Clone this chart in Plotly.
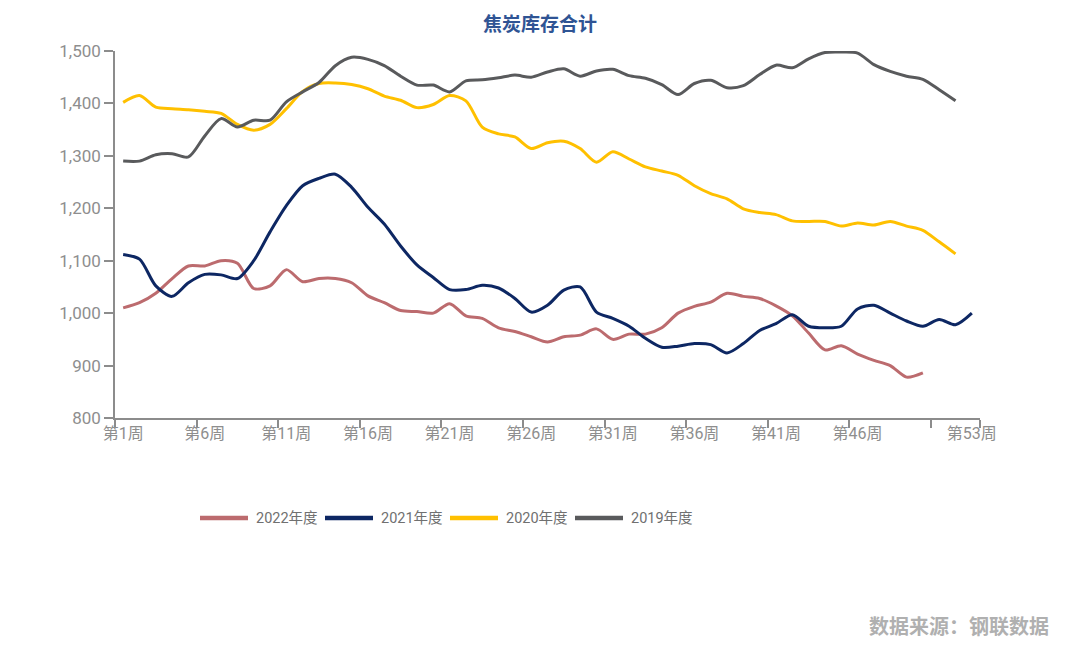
import plotly.graph_objects as go

weeks = list(range(1, 54))
tick_weeks = [1, 6, 11, 16, 21, 26, 31, 36, 41, 46, 53]
tick_labels = ["第%d周" % w for w in tick_weeks]

s2022 = [1010, 1020, 1038, 1066, 1090, 1090, 1100, 1095, 1047, 1052,
         1083, 1060, 1066, 1066, 1058, 1033, 1020, 1005, 1003, 1000,
         1018, 995, 990, 972, 965, 955, 945, 955, 958, 970,
         950, 960, 960, 972, 1000, 1013, 1021, 1038, 1032, 1028,
         1014, 995, 962, 930, 938, 922, 910, 900, 878, 886]
s2021 = [1112, 1103, 1052, 1032, 1058, 1074, 1073, 1066, 1100, 1155,
         1205, 1243, 1257, 1265, 1240, 1202, 1170, 1128, 1092, 1068,
         1045, 1045, 1053, 1048, 1028, 1002, 1015, 1044, 1050, 1002,
         990, 975, 952, 935, 937, 942, 940, 924, 942, 967,
         980, 997, 975, 972, 975, 1008, 1015, 1000, 985, 975,
         988, 978, 1000]
s2020 = [1402, 1415, 1393, 1390, 1388, 1385, 1381, 1360, 1349, 1360,
         1390, 1423, 1438, 1439, 1436, 1428, 1414, 1406, 1392, 1398,
         1415, 1405, 1355, 1342, 1336, 1314, 1325, 1328, 1314, 1288,
         1308, 1294, 1279, 1271, 1263, 1243, 1228, 1218, 1199, 1192,
         1188, 1176, 1175, 1175, 1166, 1172, 1168, 1175, 1166, 1158,
         1136, 1113]
s2019 = [1290, 1290, 1302, 1304, 1298, 1338, 1371, 1355, 1368, 1368,
         1403, 1422, 1440, 1472, 1488, 1484, 1472, 1452, 1435, 1435,
         1422, 1443, 1445, 1449, 1454, 1450, 1460, 1466, 1452, 1462,
         1465, 1453, 1448, 1436, 1417, 1438, 1444, 1430, 1434, 1455,
         1473, 1468, 1485, 1497, 1498, 1496, 1474, 1461, 1452, 1446,
         1426, 1405]

series = [
    ("2022年度", s2022, "#BC6B6E"),
    ("2021年度", s2021, "#0D2763"),
    ("2020年度", s2020, "#FFC000"),
    ("2019年度", s2019, "#595A5C"),
]

# page offset introduced by the default body margin
OFF = 8
W, H = 1080 - OFF, 651 - OFF
# plot area in page pixels: x 115..980, y 51..418
ML, MR, MT, MB = 115 - OFF, 100, 51 - OFF, 233
PW = W - ML - MR
PH = H - MT - MB


def px_x(px):
    return (px - OFF - ML) / PW


def px_y(py):
    return (H - MB - (py - OFF)) / PH


fig = go.Figure()
for name, vals, color in series:
    fig.add_trace(go.Scatter(
        x=weeks[:len(vals)], y=vals, mode="lines", name=name,
        line=dict(color=color, width=3, shape="spline", smoothing=0.8),
        showlegend=False, hoverinfo="x+y",
    ))

font_main = "Roboto, Noto Sans CJK SC, sans-serif"
axis_col = "#8C8C8C"
label_col = "#8E8E8E"

fig.update_layout(
    width=W, height=H,
    margin=dict(l=ML, r=MR, t=MT, b=MB),
    paper_bgcolor="white", plot_bgcolor="white",
    font=dict(family=font_main, color=label_col, size=15),
    xaxis=dict(
        range=[0.5, 53.5], showgrid=False, zeroline=False,
        showline=True, linecolor=axis_col, linewidth=1.5,
        tickmode="array", tickvals=tick_weeks, ticktext=tick_labels,
        ticks="", tickfont=dict(family=font_main, size=16, color=label_col),
        minor=dict(tickmode="array",
                   tickvals=[0.5 + 5 * i for i in range(11)] + [53.5],
                   ticks="outside", ticklen=8, tickwidth=1.5, tickcolor=axis_col),
    ),
    yaxis=dict(
        range=[800, 1500], showgrid=False, zeroline=False,
        showline=True, linecolor=axis_col, linewidth=1.5,
        tickmode="array", tickvals=list(range(800, 1501, 100)),
        tickformat=",d", ticks="outside", ticklen=9, tickwidth=1.5,
        tickcolor=axis_col, tickfont=dict(size=17, color=label_col),
    ),
)

# title
fig.add_annotation(
    text="焦炭库存合计", x=px_x(540), y=px_y(22), xref="paper", yref="paper",
    showarrow=False, xanchor="center", yanchor="middle",
    font=dict(family="Noto Sans CJK SC", size=19, color="#2F5494", weight="bold"),
)

# legend (drawn manually)
leg_y = 518
x0 = 200
for i, (name, vals, color) in enumerate(series):
    lx = x0 + i * 125
    fig.add_shape(type="line", xref="paper", yref="paper",
                  x0=px_x(lx), x1=px_x(lx + 48), y0=px_y(leg_y), y1=px_y(leg_y),
                  line=dict(color=color, width=4.5))
    fig.add_annotation(text=name, x=px_x(lx + 54), y=px_y(leg_y), xref="paper", yref="paper",
                       showarrow=False, xanchor="left", yanchor="middle",
                       font=dict(family=font_main, size=14.5, color="#707070"))

# source
fig.add_annotation(
    text="数据来源：钢联数据", x=px_x(1051), y=px_y(625), xref="paper", yref="paper",
    showarrow=False, xanchor="right", yanchor="middle",
    font=dict(family="Noto Sans CJK SC", size=20, color="#B0B0B0", weight="bold"),
)

fig.write_html("out.html")
